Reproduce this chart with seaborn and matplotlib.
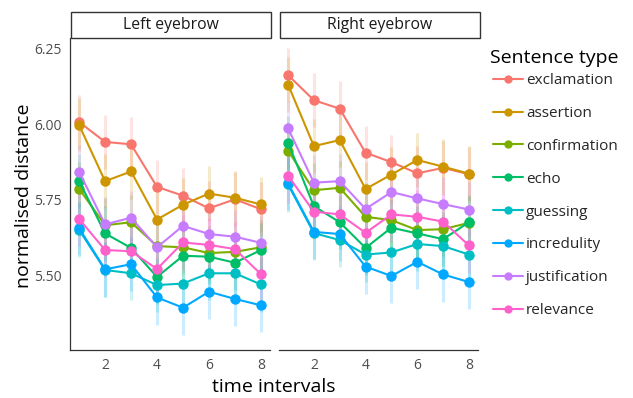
import numpy as np
import pandas as pd
import matplotlib
matplotlib.use('Agg')
import matplotlib.pyplot as plt
import seaborn as sns
from matplotlib.lines import Line2D
from matplotlib.patches import Rectangle
from matplotlib.ticker import FormatStrFormatter

# data
intervals = [1, 2, 3, 4, 5, 6, 7, 8]
sentence_types = ['exclamation', 'assertion', 'confirmation', 'echo',
                  'guessing', 'incredulity', 'justification', 'relevance']
palette = ['#F8766D', '#CD9600', '#7CAE00', '#00BE67',
           '#00BFC4', '#00A9FF', '#C77CFF', '#FF61CC']

left_exclamation = [6.007, 5.941, 5.933, 5.792, 5.763, 5.721, 5.751, 5.718]
left_assertion = [5.997, 5.811, 5.843, 5.684, 5.733, 5.770, 5.756, 5.734]
left_confirmation = [5.786, 5.665, 5.675, 5.596, 5.592, 5.573, 5.577, 5.592]
left_echo = [5.812, 5.638, 5.590, 5.494, 5.564, 5.561, 5.541, 5.583]
left_guessing = [5.650, 5.517, 5.506, 5.467, 5.472, 5.506, 5.506, 5.469]
left_incredulity = [5.655, 5.519, 5.536, 5.426, 5.392, 5.445, 5.421, 5.400]
left_justification = [5.842, 5.668, 5.690, 5.592, 5.663, 5.636, 5.627, 5.607]
left_relevance = [5.686, 5.583, 5.579, 5.520, 5.608, 5.600, 5.586, 5.503]

right_exclamation = [6.162, 6.079, 6.051, 5.905, 5.874, 5.837, 5.855, 5.834]
right_assertion = [6.131, 5.927, 5.947, 5.785, 5.833, 5.881, 5.859, 5.836]
right_confirmation = [5.912, 5.781, 5.789, 5.693, 5.682, 5.649, 5.652, 5.673]
right_echo = [5.938, 5.728, 5.675, 5.590, 5.657, 5.638, 5.619, 5.675]
right_guessing = [5.800, 5.639, 5.616, 5.568, 5.575, 5.603, 5.596, 5.568]
right_incredulity = [5.804, 5.643, 5.636, 5.528, 5.497, 5.544, 5.502, 5.477]
right_justification = [5.986, 5.806, 5.811, 5.719, 5.775, 5.754, 5.735, 5.717]
right_relevance = [5.829, 5.710, 5.701, 5.640, 5.701, 5.693, 5.677, 5.598]

# half width of the faint error bars
err_half = 0.09

left_vals = [left_exclamation, left_assertion, left_confirmation, left_echo,
             left_guessing, left_incredulity, left_justification, left_relevance]
right_vals = [right_exclamation, right_assertion, right_confirmation, right_echo,
              right_guessing, right_incredulity, right_justification, right_relevance]

rows = []
for side, vals in [('Left eyebrow', left_vals), ('Right eyebrow', right_vals)]:
    for name, series in zip(sentence_types, vals):
        for t, v in zip(intervals, series):
            rows.append({'side': side, 'type': name, 'interval': t, 'distance': v})
df = pd.DataFrame(rows)

sns.set_style('white')
plt.rcParams['font.family'] = ['Open Sans', 'DejaVu Sans']

fig = plt.figure(figsize=(6.33, 3.98), dpi=100)
W, H = 633, 398
ax_l = fig.add_axes([70 / W, 48 / H, 200 / W, 312 / H])
ax_r = fig.add_axes([279 / W, 48 / H, 199 / W, 312 / H])

colors = dict(zip(sentence_types, palette))

for ax, side in [(ax_l, 'Left eyebrow'), (ax_r, 'Right eyebrow')]:
    sub = df[df['side'] == side]
    for name in sentence_types:
        s = sub[sub['type'] == name]
        ax.vlines(s['interval'], s['distance'] - err_half, s['distance'] + err_half,
                  color=colors[name], alpha=0.2, lw=2.2, zorder=1)
    sns.lineplot(data=sub, x='interval', y='distance', hue='type',
                 hue_order=sentence_types, palette=colors, marker='o',
                 markersize=7.5, markeredgewidth=0, lw=1.5, legend=False, ax=ax,
                 zorder=3)
    ax.set_xlim(0.65, 8.35)
    ax.set_ylim(5.252, 6.285)
    ax.set_xticks([2, 4, 6, 8])
    ax.set_yticks([5.50, 5.75, 6.00, 6.25])
    ax.set_xlabel('')
    ax.set_ylabel('')
    for sp in ['top', 'right']:
        ax.spines[sp].set_visible(False)
    for sp in ['left', 'bottom']:
        ax.spines[sp].set_color('#333333')
        ax.spines[sp].set_linewidth(0.9)
    ax.tick_params(axis='both', direction='out', length=4, width=0.8,
                   color='#333333', labelcolor='#4D4D4D', labelsize=10, pad=2)

ax_l.yaxis.set_major_formatter(FormatStrFormatter('%.2f'))
ax_r.set_yticklabels([])
ax_r.tick_params(axis='y', length=0)
ax_r.spines['left'].set_visible(False)

# facet strips
for x0, label in [(71, 'Left eyebrow'), (279.5, 'Right eyebrow')]:
    fig.patches.append(Rectangle((x0 / W, (398 - 37.5) / H), 200 / W, 25.5 / H,
                                 transform=fig.transFigure, fc='white',
                                 ec='#333333', lw=1.0))
    fig.text((x0 + 100) / W, 1 - 25 / H, label, ha='center', va='center',
             fontsize=11.3, color='#1A1A1A', zorder=5)

fig.text(24 / W, 1 - 196 / H, 'normalised distance', rotation=90, ha='center',
         va='center', fontsize=14, color='black')
fig.text(274 / W, 1 - 387 / H, 'time intervals', ha='center', va='center',
         fontsize=14, color='black')

fig.text(490 / W, 1 - 58 / H, 'Sentence type', ha='left', va='center',
         fontsize=14, color='black')

handles = [Line2D([0], [0], color=c, lw=1.5, marker='o', markersize=6,
                  markeredgewidth=0) for c in palette]
leg = fig.legend(handles, sentence_types, loc='upper left',
                 bbox_to_anchor=(493 / W, 1 - 73 / H), frameon=False,
                 fontsize=11, labelspacing=1.17, handlelength=1.95,
                 handletextpad=0.2, borderaxespad=0, borderpad=0)

fig.savefig('out.png', dpi=100)
